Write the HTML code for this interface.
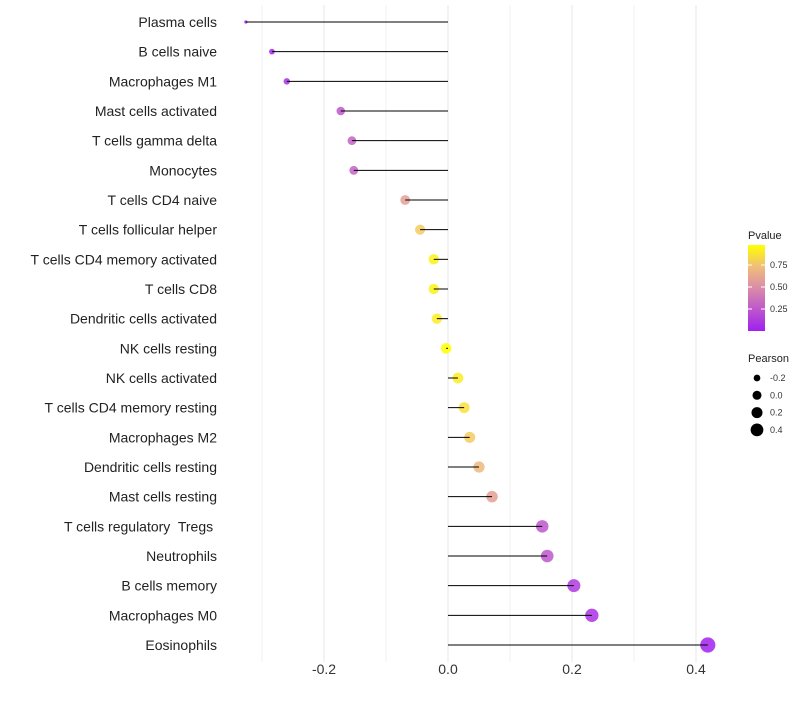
<!DOCTYPE html>
<html><head><meta charset="utf-8"><style>
body{margin:0;background:#fff;font-family:"Liberation Sans",sans-serif;}
svg text{font-family:"Liberation Sans",sans-serif;white-space:pre;}
</style></head><body>
<svg id="chart" width="800" height="700"></svg>
<script>
const categories=["Plasma cells","B cells naive","Macrophages M1","Mast cells activated","T cells gamma delta","Monocytes","T cells CD4 naive","T cells follicular helper","T cells CD4 memory activated","T cells CD8","Dendritic cells activated","NK cells resting","NK cells activated","T cells CD4 memory resting","Macrophages M2","Dendritic cells resting","Mast cells resting","T cells regulatory  Tregs ","Neutrophils","B cells memory","Macrophages M0","Eosinophils"];
const pearson=[-0.326,-0.284,-0.26,-0.173,-0.155,-0.152,-0.069,-0.045,-0.023,-0.023,-0.018,-0.003,0.016,0.026,0.035,0.05,0.071,0.152,0.16,0.203,0.232,0.419];
const pvalues=[0.0,0.05,0.08,0.25,0.3,0.3,0.6,0.8,0.95,0.95,0.93,1.0,0.93,0.88,0.8,0.72,0.6,0.25,0.25,0.12,0.08,0.01];
const xTicks=[-0.2,0.0,0.2,0.4];
const xMinor=[-0.3,-0.1,0.1,0.3];
const colorTicks=[0.25,0.5,0.75];
const sizeLegend=[-0.2,0.0,0.2,0.4];

const NS="http://www.w3.org/2000/svg";
const svg=document.getElementById('chart');
function el(t,a,p){const e=document.createElementNS(NS,t);for(const k in a)e.setAttribute(k,a[k]);(p||svg).appendChild(e);return e;}
const x=v=>448+v*620;
const y=i=>22+i*(623/21);
const rk=[[-0.33,1.5],[-0.28,3],[-0.17,4.3],[0,5.3],[0.16,6.3],[0.42,7.6]];
function rad(v){if(v<=rk[0][0])return rk[0][1];for(let i=1;i<rk.length;i++){if(v<=rk[i][0]){const a=rk[i-1],b=rk[i];return a[1]+(b[1]-a[1])*(v-a[0])/(b[0]-a[0]);}}return rk[rk.length-1][1];}
const stops=[[0,[160,32,240]],[0.5,[218,140,168]],[0.75,[240,190,120]],[1,[255,255,0]]];
function col(p){p=Math.max(0,Math.min(1,p));for(let i=1;i<stops.length;i++){if(p<=stops[i][0]){const a=stops[i-1],b=stops[i],t=(p-a[0])/(b[0]-a[0]);const c=a[1].map((v,j)=>Math.round(v+(b[1][j]-v)*t));return `rgb(${c})`;}}return 'rgb(255,255,0)';}

xMinor.forEach(v=>{const l=el('line',{x1:x(v),x2:x(v),y1:5,y2:662,stroke:'#f0f0f0','stroke-width':1});

});
xTicks.forEach(v=>{const l=el('line',{x1:x(v),x2:x(v),y1:5,y2:662,stroke:'#ebebeb','stroke-width':1.2});


const t=el('text',{x:x(v),y:674,'text-anchor':'middle','font-size':14,fill:'#333'});t.textContent=v.toFixed(1);

});

categories.forEach((c,i)=>{
const t=el('text',{x:217,y:y(i)+5,'text-anchor':'end','font-size':14,fill:'#222'});t.textContent=c;


const d=el('circle',{cx:x(pearson[i]),cy:y(i),r:rad(pearson[i]),fill:col(pvalues[i]),'fill-opacity':0.85});


const l=el('line',{x1:x(0),x2:x(pearson[i]),y1:y(i),y2:y(i),stroke:'#000','stroke-width':1});


});

const lg=el('g',{});


const defs=el('defs',{});
const gr=el('linearGradient',{id:'g',x1:0,y1:1,x2:0,y2:0},defs);
stops.forEach(s=>el('stop',{offset:s[0],'stop-color':`rgb(${s[1]})`},gr));
const tt=el('text',{x:748,y:239,'font-size':11,fill:'#222'},lg);tt.textContent='Pvalue';
el('rect',{x:748,y:245,width:17,height:86,fill:'url(#g)'},lg);
colorTicks.forEach(v=>{const yy=331-v*88;
el('line',{x1:748,x2:752,y1:yy,y2:yy,stroke:'#fff'},lg);el('line',{x1:761,x2:765,y1:yy,y2:yy,stroke:'#fff'},lg);
const t=el('text',{x:770,y:yy+3,'font-size':9,fill:'#333'},lg);t.textContent=v.toFixed(2);});

const sg=el('g',{});


const st=el('text',{x:748,y:362,'font-size':11,fill:'#222'},sg);st.textContent='Pearson';
sizeLegend.forEach((v,i)=>{const yy=378+i*17.3;
el('circle',{cx:757,cy:yy,r:rad(v)*0.85,fill:'#000'},sg);
const t=el('text',{x:770,y:yy+3,'font-size':9,fill:'#333'},sg);t.textContent=v.toFixed(1);});
</script>
</body></html>
